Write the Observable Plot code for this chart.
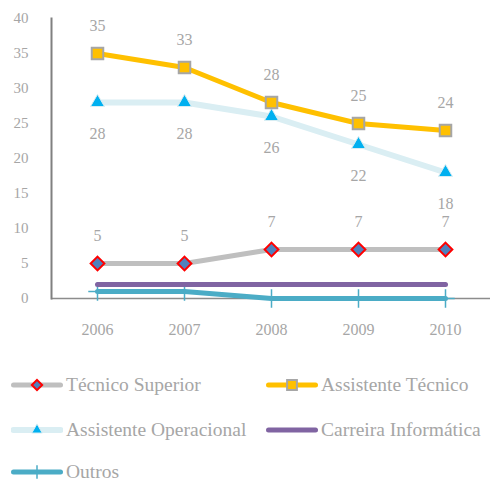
<!DOCTYPE html>
<html><head><meta charset="utf-8">
<script src="https://cdn.jsdelivr.net/npm/d3@7"></script>
<script src="https://cdn.jsdelivr.net/npm/@observablehq/plot@0.6"></script>
<style>
body{margin:0;background:#fff;font-family:"Liberation Serif",serif;}
#wrap{position:relative;width:490px;}
.leg{position:absolute;display:flex;align-items:center;font-size:19.5px;line-height:18px;color:#a6a6a6;white-space:nowrap;}
.leg svg{margin-right:3px;}
</style></head>
<body><div id="wrap"><div id="chart"></div><div id="legend" style="position:relative;height:137px;"></div></div>
<script>
const years = [2006, 2007, 2008, 2009, 2010];
const seriesNames = ["Técnico Superior", "Assistente Técnico", "Assistente Operacional", "Carreira Informática", "Outros"];
const tecnicoSuperior = [5, 5, 7, 7, 7];
const assistenteTecnico = [35, 33, 28, 25, 24];
const assistenteOperacional = [28, 28, 26, 22, 18];
const carreiraInformatica = [2, 2, 2, 2, 2];
const outros = [1, 1, 0, 0, 0];
const yTicks = [0, 5, 10, 15, 20, 25, 30, 35, 40];

const styles = {
  "Técnico Superior": {stroke: "#bfbfbf", w: 5, symbol: "diamond2", fill: "#4f81bd", mstroke: "#ff0000", r: 6.2, msw: 2},
  "Assistente Técnico": {stroke: "#ffc000", w: 5, symbol: "square", fill: "#ffc000", mstroke: "#a6a6a6", r: 6.5, msw: 2},
  "Assistente Operacional": {stroke: "#daeef3", w: 6, symbol: "triangle", fill: "#00b0f0", mstroke: "#daeef3", r: 5.2, msw: 1},
  "Carreira Informática": {stroke: "#8064a2", w: 5},
  "Outros": {stroke: "#4bacc6", w: 5, symbol: "plus", fill: "none", mstroke: "#4bacc6", r: 6, msw: 1.5}
};
const valuesBy = {
  "Técnico Superior": tecnicoSuperior,
  "Assistente Técnico": assistenteTecnico,
  "Assistente Operacional": assistenteOperacional,
  "Carreira Informática": carreiraInformatica,
  "Outros": outros
};
const rows = name => years.map((y, i) => ({series: name, year: y, value: valuesBy[name][i]}));
const drawOrder = ["Outros", "Carreira Informática", "Técnico Superior", "Assistente Operacional", "Assistente Técnico"];

const marks = [
  Plot.ruleY([0], {stroke: "#8c8c8c", strokeWidth: 1.5}),
  Plot.frame({anchor: "left", stroke: "#808080", strokeWidth: 2}),
  Plot.axisY({ticks: yTicks, tickSize: 0, tickPadding: 23, fontSize: 15, fill: "#a6a6a6", label: null}),
  Plot.axisX({tickSize: 0, tickPadding: 25, fontSize: 16, fill: "#a6a6a6", label: null, tickFormat: d => String(d)})
];
for (const name of drawOrder) {
  const s = styles[name];
  const d = rows(name);
  marks.push(Plot.line(d, {x: "year", y: "value", stroke: s.stroke, strokeWidth: s.w, strokeLinecap: "round", strokeLinejoin: "round"}));
  if (s.symbol) {
    marks.push(Plot.dot(d, {x: "year", y: "value", symbol: () => s.symbol, r: s.r, fill: s.fill, stroke: s.mstroke, strokeWidth: s.msw}));
  }
}
const labelCfg = {fontSize: 16, fill: "#a6a6a6", fontFamily: "Liberation Serif"};
marks.push(Plot.text(rows("Técnico Superior"), {x: "year", y: "value", text: "value", dy: -28, ...labelCfg}));
marks.push(Plot.text(rows("Assistente Técnico"), {x: "year", y: "value", text: "value", dy: -28, ...labelCfg}));
marks.push(Plot.text(rows("Assistente Operacional"), {x: "year", y: "value", text: "value", dy: 31, ...labelCfg}));

const chart = Plot.plot({
  width: 490, height: 345,
  marginLeft: 51, marginRight: 0, marginTop: 18, marginBottom: 47,
  style: {fontFamily: "Liberation Serif", background: "#fff"},
  x: {type: "point", domain: years, padding: 0.5, axis: null},
  y: {domain: [0, 40], axis: null},
  marks
});
document.getElementById("chart").appendChild(chart);

// legend
const legPos = [
  ["Técnico Superior", 11, 40], ["Assistente Técnico", 266, 40],
  ["Assistente Operacional", 11, 85], ["Carreira Informática", 266, 85],
  ["Outros", 11, 127]
];
const legend = document.getElementById("legend");
for (const [name, left, cy] of legPos) {
  const s = styles[name];
  const div = document.createElement("div");
  div.className = "leg";
  div.style.left = left + "px";
  div.style.top = (cy - 9) + "px";
  div.style.height = "18px";
  const ns = "http://www.w3.org/2000/svg";
  const svg = document.createElementNS(ns, "svg");
  svg.setAttribute("width", 52); svg.setAttribute("height", 16);
  const ln = document.createElementNS(ns, "line");
  ln.setAttribute("x1", 2.5); ln.setAttribute("x2", 49.5); ln.setAttribute("y1", 8); ln.setAttribute("y2", 8);
  ln.setAttribute("stroke", s.stroke); ln.setAttribute("stroke-width", s.w); ln.setAttribute("stroke-linecap", "round");
  svg.appendChild(ln);
  if (s.symbol) {
    const symMap = {diamond2: d3.symbolDiamond2, square: d3.symbolSquare, triangle: d3.symbolTriangle, plus: d3.symbolPlus};
    const p = document.createElementNS(ns, "path");
    const scale = name === "Assistente Técnico" ? 0.85 : 0.75;
    p.setAttribute("d", d3.symbol(symMap[s.symbol], Math.PI * (s.r * scale) ** 2)());
    p.setAttribute("transform", "translate(26,8)");
    p.setAttribute("fill", s.fill); p.setAttribute("stroke", s.mstroke); p.setAttribute("stroke-width", s.msw);
    svg.appendChild(p);
  }
  div.appendChild(svg);
  const t = document.createElement("span");
  t.textContent = name;
  div.appendChild(t);
  legend.appendChild(div);
}
</script></body></html>
